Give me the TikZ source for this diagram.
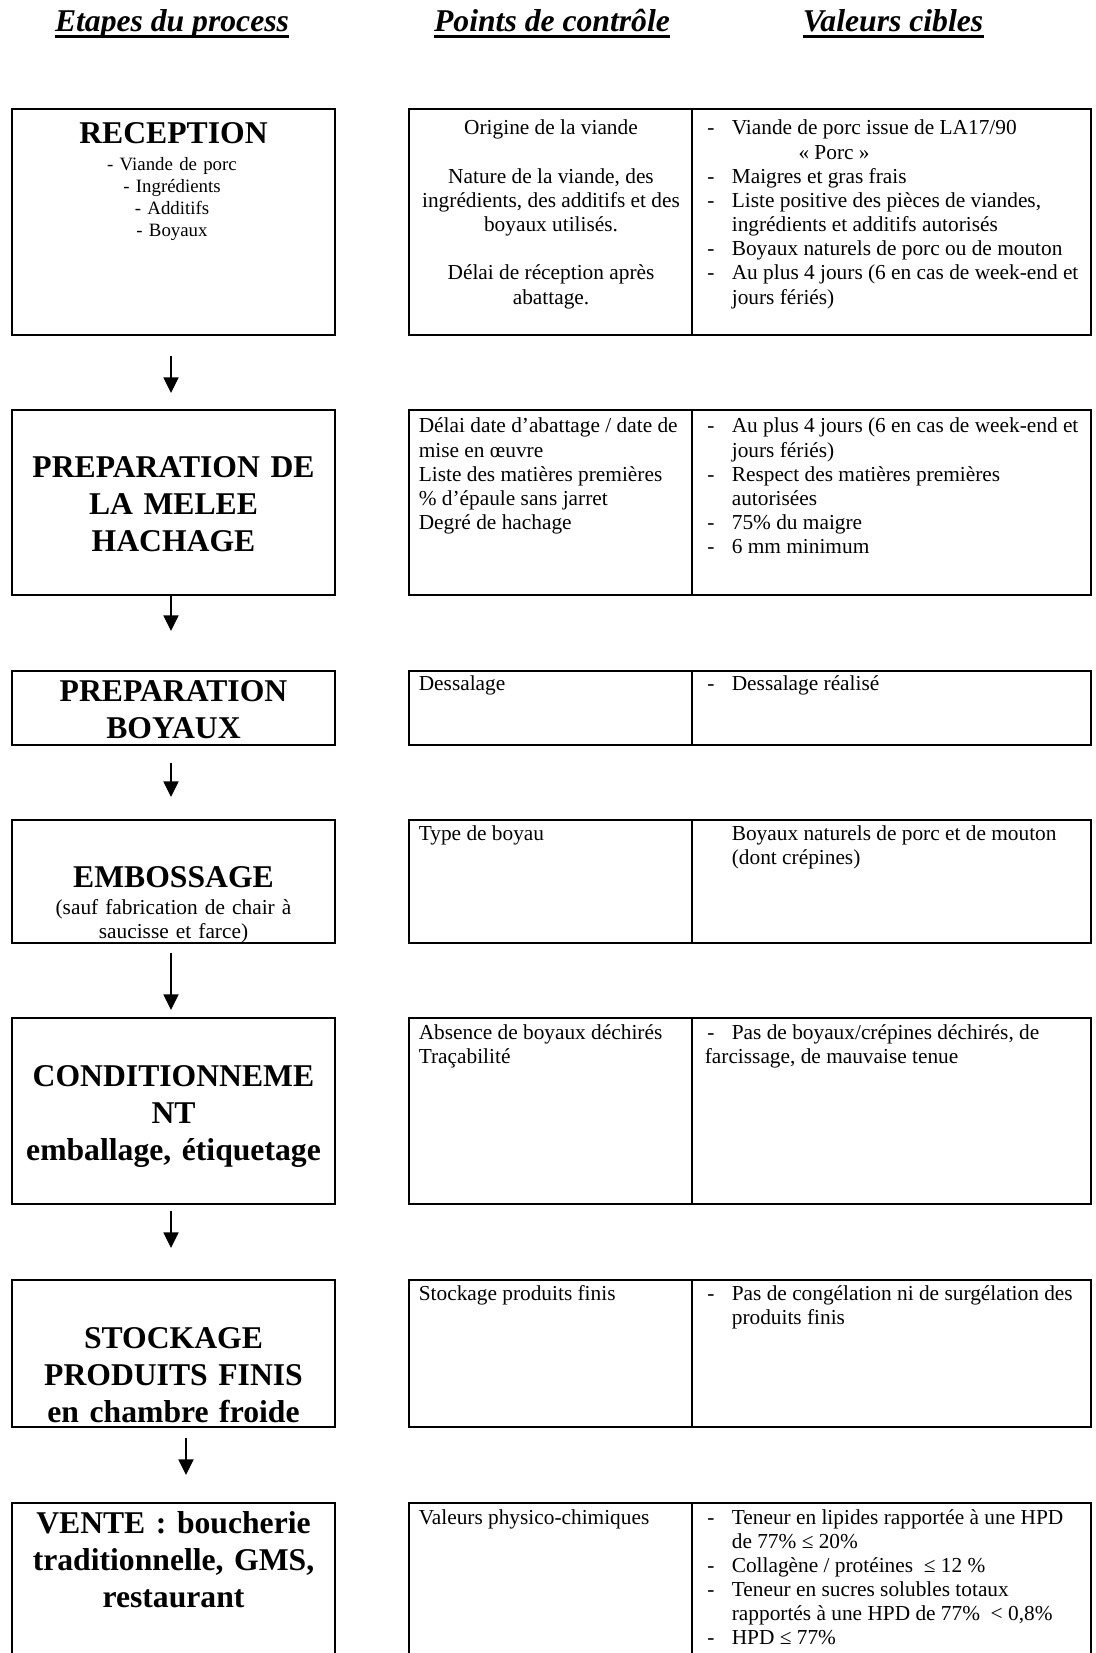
\documentclass[tikz,border=0pt]{standalone}
\usepackage{fontspec}
\setmainfont{Liberation Serif}
\usetikzlibrary{arrows.meta,fit,calc}
\frenchspacing
\newcommand{\corps}{\fontsize{12.8pt}{14.5pt}\selectfont}
\newcommand{\petit}{\fontsize{11.3pt}{13.1pt}\selectfont}
\newcommand{\grand}{\fontsize{19pt}{22.2pt}\selectfont\bfseries}
\newcommand{\entete}{\fontsize{19pt}{22pt}\selectfont\bfseries\itshape}
\tikzstyle{etape} = [draw, line width=1.2pt, rectangle, inner sep=0pt]
\tikzstyle{tableau} = [draw, line width=1.2pt, rectangle, inner sep=0pt]
\tikzstyle{nometape} = [font=\grand, align=center, text width=190pt,
    anchor=base, inner sep=0pt]
\tikzstyle{soustexte} = [align=center, text width=190pt, anchor=base, inner sep=0pt]
\tikzstyle{cellule} = [font=\corps, anchor=base west, inner sep=0pt]
\tikzstyle{titre} = [font=\entete, anchor=base, inner sep=0pt]
\tikzstyle{souligne} = [line width=1.3pt]
\tikzstyle{fleche} = [-{Triangle[length=9.4pt,width=9pt]}, line width=1pt]

\begin{document}
\begin{tikzpicture}[x=0.6pt, y=-0.6pt]
    \useasboundingbox (0,0) rectangle (1095,1653);
    \clip (0,0) rectangle (1095,1653);
    \node [titre] (hEtapes) at (172,32) {Etapes du process};
    \node [titre] (hPoints) at (552,32) {Points de contrôle};
    \node [titre] (hValeurs) at (893,32) {Valeurs cibles};
    \foreach \h in {hEtapes,hPoints,hValeurs}
        \draw [souligne] ($(\h.base west)+(0,4.5)$) -- ($(\h.base east)+(0,4.5)$);

    \node [etape, fit={(12,109) (335,335)}] (recep) {};
    \node [etape, fit={(12,410) (335,595)}] (melee) {};
    \node [etape, fit={(12,671) (335,745)}] (boyaux) {};
    \node [etape, fit={(12,820) (335,943)}] (embos) {};
    \node [etape, fit={(12,1018) (335,1204)}] (condi) {};
    \node [etape, fit={(12,1280) (335,1427)}] (stock) {};
    \node [etape, fit={(12,1503) (335,1720)}] (vente) {};

    \node [tableau, fit={(409,109) (1091,335)}] (tab1) {};
    \node [tableau, fit={(409,410) (1091,595)}] (tab2) {};
    \node [tableau, fit={(409,671) (1091,745)}] (tab3) {};
    \node [tableau, fit={(409,820) (1091,943)}] (tab4) {};
    \node [tableau, fit={(409,1018) (1091,1204)}] (tab5) {};
    \node [tableau, fit={(409,1280) (1091,1427)}] (tab6) {};
    \node [tableau, fit={(409,1503) (1091,1720)}] (tab7) {};
    \foreach \t in {tab1,tab2,tab3,tab4,tab5,tab6,tab7}
        \draw [line width=0.8pt] ($(\t.north west)+(284,0)$) -- ($(\t.south west)+(284,0)$);

    \node [nometape] (tRecep) at (173.5,144) {RECEPTION};
    \node [soustexte, font=\petit] (lRecep) at (172,171) {- Viande de porc\\- Ingrédients\\- Additifs\\- Boyaux};
    \node [nometape] (tMelee) at (173.5,477.5) {PREPARATION DE\\LA MELEE\\HACHAGE};
    \node [nometape] (tBoyaux) at (173.5,701.5) {PREPARATION\\BOYAUX};
    \node [nometape] (tEmbos) at (173.5,887.5) {EMBOSSAGE};
    \node [soustexte, font=\corps] (sEmbos) at (173.5,914) {(sauf fabrication de chair à\\saucisse et farce)};
    \node [nometape] (tCondi) at (173.5,1086.5) {CONDITIONNEME\\NT\\emballage, étiquetage};
    \node [nometape] (tStock) at (173.5,1348) {STOCKAGE\\PRODUITS FINIS\\en chambre froide};
    \node [nometape] (tVente) at (173.5,1533) {VENTE : boucherie\\traditionnelle, GMS,\\restaurant};

    \node [cellule, anchor=base] (c1) at (551,135) {\begin{tabular}[t]{@{}c@{}}
        Origine de la viande\\ \\Nature de la viande, des\\ingrédients, des additifs et des\\
        boyaux utilisés.\\ \\Délai de réception après\\abattage.\end{tabular}};
    \node [cellule] (v1) at (707,135) {\begin{tabular}[t]{@{}p{14.7pt}@{}l@{}}
        - & Viande de porc issue de LA17/90\\
          & \hspace*{40pt}«~Porc~»\\
        - & Maigres et gras frais\\
        - & Liste positive des pièces de viandes,\\
          & ingrédients et additifs autorisés\\
        - & Boyaux naturels de porc ou de mouton\\
        - & Au plus 4 jours (6 en cas de week-end et\\
          & jours fériés)\end{tabular}};

    \node [cellule] (c2) at (418.5,433) {\begin{tabular}[t]{@{}l@{}}
        Délai date d’abattage / date de\\mise en œuvre\\Liste des matières premières\\
        \% d’épaule sans jarret\\Degré de hachage\end{tabular}};
    \node [cellule] (v2) at (707,433) {\begin{tabular}[t]{@{}p{14.7pt}@{}l@{}}
        - & Au plus 4 jours (6 en cas de week-end et\\
          & jours fériés)\\
        - & Respect des matières premières\\
          & autorisées\\
        - & 75\% du maigre\\
        - & 6 mm minimum\end{tabular}};

    \node [cellule] (c3) at (418.5,690) {Dessalage};
    \node [cellule] (v3) at (707,690) {\begin{tabular}[t]{@{}p{14.7pt}@{}l@{}}
        - & Dessalage réalisé\end{tabular}};

    \node [cellule] (c4) at (418.5,840) {Type de boyau};
    \node [cellule] (v4) at (707,840) {\begin{tabular}[t]{@{}p{14.7pt}@{}l@{}}
          & Boyaux naturels de porc et de mouton\\
          & (dont crépines)\end{tabular}};

    \node [cellule] (c5) at (418.5,1039) {\begin{tabular}[t]{@{}l@{}}
        Absence de boyaux déchirés\\Traçabilité\end{tabular}};
    \node [cellule] (v5) at (707,1039) {\begin{tabular}[t]{@{}p{14.7pt}@{}l@{}}
        - & Pas de boyaux/crépines déchirés, de\\
        \multicolumn{2}{@{\hspace{-1.5pt}}l@{}}{farcissage, de mauvaise tenue}\end{tabular}};

    \node [cellule] (c6) at (418.5,1300) {Stockage produits finis};
    \node [cellule] (v6) at (707,1300) {\begin{tabular}[t]{@{}p{14.7pt}@{}l@{}}
        - & Pas de congélation ni de surgélation des\\
          & produits finis\end{tabular}};

    \node [cellule] (c7) at (418.5,1524) {Valeurs physico-chimiques};
    \node [cellule] (v7) at (707,1524) {\begin{tabular}[t]{@{}p{14.7pt}@{}l@{}}
        - & Teneur en lipides rapportée à une HPD\\
          & de 77\% ≤ 20\%\\
        - & Collagène / protéines\ \ ≤ 12~\%\\
        - & Teneur en sucres solubles totaux\\
          & rapportés à une HPD de 77\%\ \ < 0,8\%\\
        - & HPD ≤ 77\%\end{tabular}};

    \foreach \a/\b/\d/\f/\dx in {recep/melee/20/16/-2.5, melee/boyaux/0/39/-2.5,
        boyaux/embos/17/22/-2.5, embos/condi/9/7/-2.5, condi/stock/6/31/-2.5,
        stock/vente/10/27/12.5}
        \draw [fleche] ($(\a.south)+(\dx,\d)$) -- ($(\b.north)+(\dx,-\f)$);
\end{tikzpicture}
\end{document}
